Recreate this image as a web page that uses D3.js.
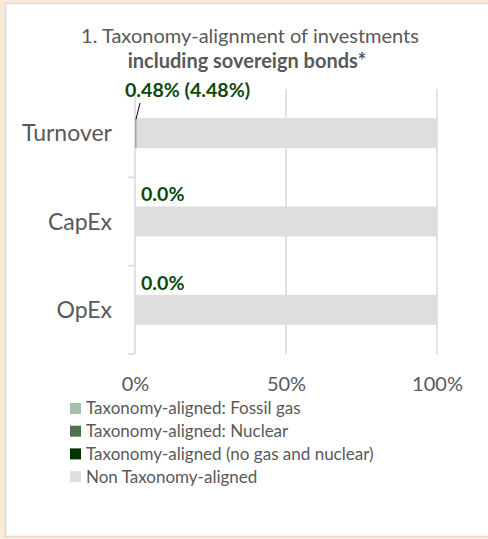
<!DOCTYPE html>
<html><head><meta charset="utf-8">
<script src="https://cdn.jsdelivr.net/npm/d3@7"></script>
<style>
html,body{margin:0;padding:0;background:#fbe9d7;}
svg{display:block;font-family:Lato,"Open Sans",sans-serif;}
</style></head>
<body>
<svg id="chart" width="488" height="539"></svg>
<script>
const categories = ["Turnover", "CapEx", "OpEx"];
const seriesNames = ["Taxonomy-aligned: Fossil gas", "Taxonomy-aligned: Nuclear", "Taxonomy-aligned (no gas and nuclear)", "Non Taxonomy-aligned"];
const fossilGas = [0, 0, 0];
const nuclear = [0, 0, 0];
const alignedNoGasNuclear = [0.48, 0, 0];
const nonAligned = [99.52, 100, 100];
const dataLabels = ["0.48% (4.48%)", "0.0%", "0.0%"];
const xTicks = [0, 50, 100];
const colors = ["#a6bea6", "#4d734d", "#003300", "#dedede"];

const svg = d3.select("#chart");
// panel
svg.append("rect").attr("x", 5.5).attr("y", 3.5).attr("width", 490).attr("height", 533)
  .attr("fill", "#fff").attr("stroke", "#d9d9d9").attr("stroke-width", 1.5);

const x = d3.scaleLinear().domain([0, 100]).range([135, 437]);
const y = d3.scaleBand().domain(categories).range([89, 354]).paddingInner(0.66).paddingOuter(0.33);

const rows = categories.map((c, i) => ({cat: c, s0: fossilGas[i], s1: nuclear[i], s2: alignedNoGasNuclear[i], s3: nonAligned[i]}));
const keys = ["s0", "s1", "s2", "s3"];
const stacked = d3.stack().keys(keys)(rows);

// title
const title = svg.append("text").attr("text-anchor", "middle").attr("fill", "#595959");
title.append("tspan").attr("x", 250).attr("y", 43).attr("font-size", 20).text("1. Taxonomy-alignment of investments");
title.append("tspan").attr("x", 247).attr("y", 68).attr("font-size", 20).attr("font-weight", "bold").text("including sovereign bonds*");

// gridlines
svg.append("g").selectAll("line").data(xTicks.slice(1)).join("line")
  .attr("x1", d => x(d)).attr("x2", d => x(d)).attr("y1", 89).attr("y2", 354)
  .attr("stroke", "#d9d9d9").attr("stroke-width", 1.5);

// bars
svg.append("g").selectAll("g").data(stacked).join("g")
  .attr("fill", (d, i) => colors[i])
  .selectAll("rect").data(d => d).join("rect")
  .attr("x", d => x(d[0])).attr("width", d => x(d[1]) - x(d[0]))
  .attr("y", d => y(d.data.cat)).attr("height", y.bandwidth());

// y axis line and boundary ticks
const yAxis = svg.append("g");
yAxis.append("line").attr("x1", x(0)).attr("x2", x(0)).attr("y1", 89).attr("y2", 354)
  .attr("stroke", "#d9d9d9").attr("stroke-width", 1.5);
const bounds = categories.map((c, i) => y(c) + y.bandwidth() + y.step() * y.paddingInner() / 2);
yAxis.selectAll("line.tick").data(bounds).join("line").attr("class", "tick")
  .attr("x1", x(0) - 7).attr("x2", x(0)).attr("y1", d => d).attr("y2", d => d)
  .attr("stroke", "#d9d9d9").attr("stroke-width", 1.5);
yAxis.selectAll("text").data(categories).join("text")
  .attr("x", 112).attr("y", d => y(d) + y.bandwidth() / 2).attr("dy", "0.35em")
  .attr("text-anchor", "end").attr("font-size", 23).attr("fill", "#595959").text(d => d);

// x axis labels
const xAxis = svg.append("g").attr("transform", "translate(0,374)")
  .call(d3.axisBottom(x).tickValues(xTicks).tickFormat(d => d + "%").tickSize(0));
xAxis.select(".domain").remove();
xAxis.selectAll("text").attr("font-size", 20).attr("fill", "#595959").attr("font-family", "Lato").attr("dy", "0.71em");

// data labels
const lbl = svg.append("g").attr("font-weight", "bold").attr("font-size", 19.6).attr("fill", "#0b4a0b");
lbl.selectAll("text").data(categories).join("text")
  .attr("x", (d, i) => i === 0 ? 125 : 141)
  .attr("y", (d, i) => i === 0 ? y(d) - 21 : y(d) - 5)
  .text((d, i) => dataLabels[i]);
svg.append("line").attr("x1", 140).attr("y1", 103).attr("x2", 136).attr("y2", y(categories[0]) + 1)
  .attr("stroke", "#000").attr("stroke-width", 1);

// legend
const leg = svg.append("g");
const li = leg.selectAll("g").data(seriesNames).join("g")
  .attr("transform", (d, i) => `translate(70,${408.5 + 22.7 * i})`);
li.append("rect").attr("x", 0).attr("y", -5.5).attr("width", 11).attr("height", 11).attr("fill", (d, i) => colors[i]);
li.append("text").attr("x", 16).attr("dy", "0.35em").attr("font-size", 17).attr("fill", "#595959").text(d => d);
</script>
</body></html>
